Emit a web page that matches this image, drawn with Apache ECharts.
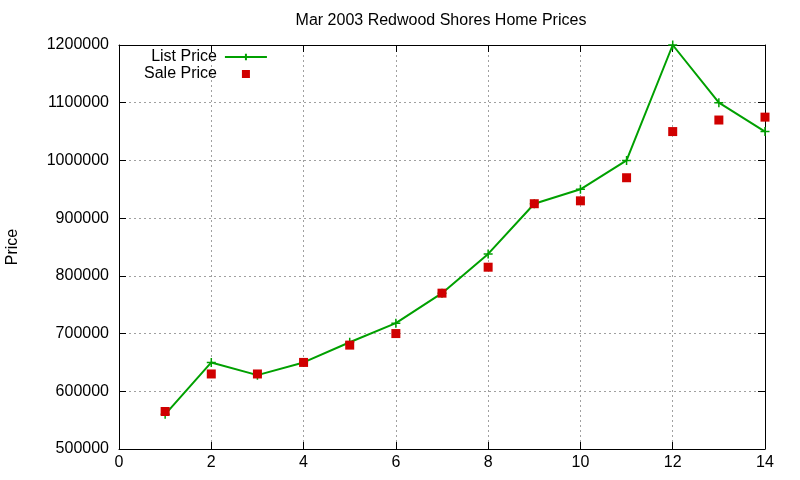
<!DOCTYPE html>
<html>
<head>
<meta charset="utf-8">
<script src="https://cdn.jsdelivr.net/npm/echarts@6/dist/echarts.min.js"></script>
<style>
  html, body { margin: 0; padding: 0; background: #fff; }
  #chart { width: 800px; height: 480px; }
</style>
</head>
<body>
<div id="chart"></div>
<script>
// values
const months = [1, 2, 3, 4, 5, 6, 7, 8, 9, 10, 11, 12, 13, 14]
const listPrice = [560000, 650000, 628000, 650000, 685000, 718000, 770000, 838000, 925000, 950000, 1000000, 1200000, 1100000, 1050000]
const salePrice = [565000, 630000, 630000, 650000, 680000, 700000, 770000, 815000, 925000, 930000, 970000, 1050000, 1070000, 1075000]

const FONT = 'Liberation Sans'
const FONT_SIZE = 16
const GREEN = '#00a000'
const RED = '#d00000'

// plus marker (stroked path) and a legend square padded out to full icon width
const plusPath = 'path://M0,5 L10,5 M5,0 L5,10'
const squareIcon = 'path://M0,0h0.01v0.01h-0.01z M17,0h8v8h-8z M41.99,7.99h0.01v0.01h-0.01z'

const chart = echarts.init(document.getElementById('chart'), null, { renderer: 'canvas' })

const gridLine = { show: true, lineStyle: { color: '#a0a0a0', type: [2, 3], width: 1 } }
const frameLine = { show: true, onZero: false, lineStyle: { color: '#000', width: 1 } }
const innerTick = { show: true, inside: true, length: 7, lineStyle: { color: '#000' } }
const labelFont = { color: '#000', fontFamily: FONT, fontSize: FONT_SIZE }

chart.setOption({
  animation: false,
  backgroundColor: '#fff',
  title: {
    text: 'Mar 2003 Redwood Shores Home Prices',
    left: 441,
    top: 13,
    padding: 0,
    textAlign: 'center',
    textStyle: { color: '#000', fontFamily: FONT, fontSize: FONT_SIZE, fontWeight: 'normal' }
  },
  legend: {
    orient: 'vertical',
    left: 144,
    top: 49,
    padding: 0,
    align: 'right',
    itemWidth: 42,
    itemHeight: 8,
    itemGap: 1,
    textStyle: {
      color: '#000', fontFamily: FONT, fontSize: FONT_SIZE,
      width: 77, align: 'right', padding: [0, 3, 0, 0]
    },
    data: [
      { name: 'List Price' },
      { name: 'Sale Price', icon: squareIcon }
    ]
  },
  grid: { left: 119, right: 35, top: 45, bottom: 31, containLabel: false, outerBoundsMode: 'none' },
  xAxis: [
    {
      type: 'value', min: 0, max: 14, interval: 2,
      axisLine: frameLine, axisTick: innerTick,
      axisLabel: Object.assign({ margin: 6 }, labelFont),
      splitLine: gridLine
    },
    {
      type: 'value', position: 'top', min: 0, max: 14, interval: 2,
      axisLine: frameLine, axisTick: innerTick,
      axisLabel: { show: false }, splitLine: { show: false }
    }
  ],
  yAxis: [
    {
      type: 'value', min: 500000, max: 1200000, interval: 100000,
      name: 'Price', nameLocation: 'middle', nameGap: 98, nameRotate: 90,
      nameTextStyle: labelFont,
      axisLine: frameLine, axisTick: innerTick,
      axisLabel: Object.assign({ margin: 10, formatter: v => String(v) }, labelFont),
      splitLine: gridLine
    },
    {
      type: 'value', position: 'right', min: 500000, max: 1200000, interval: 100000,
      axisLine: frameLine, axisTick: innerTick,
      axisLabel: { show: false }, splitLine: { show: false }
    }
  ],
  series: [
    {
      name: 'List Price',
      type: 'line',
      data: months.map((m, i) => [m, listPrice[i]]),
      symbol: plusPath,
      symbolSize: 9,
      showAllSymbol: true,
      lineStyle: { color: GREEN, width: 2 },
      itemStyle: { color: GREEN, borderColor: GREEN, borderWidth: 1.5 },
      z: 3
    },
    {
      name: 'Sale Price',
      type: 'scatter',
      data: months.map((m, i) => [m, salePrice[i]]),
      symbol: 'rect',
      symbolSize: 9,
      itemStyle: { color: RED, opacity: 1 },
      z: 4
    }
  ]
})
</script>
</body>
</html>
